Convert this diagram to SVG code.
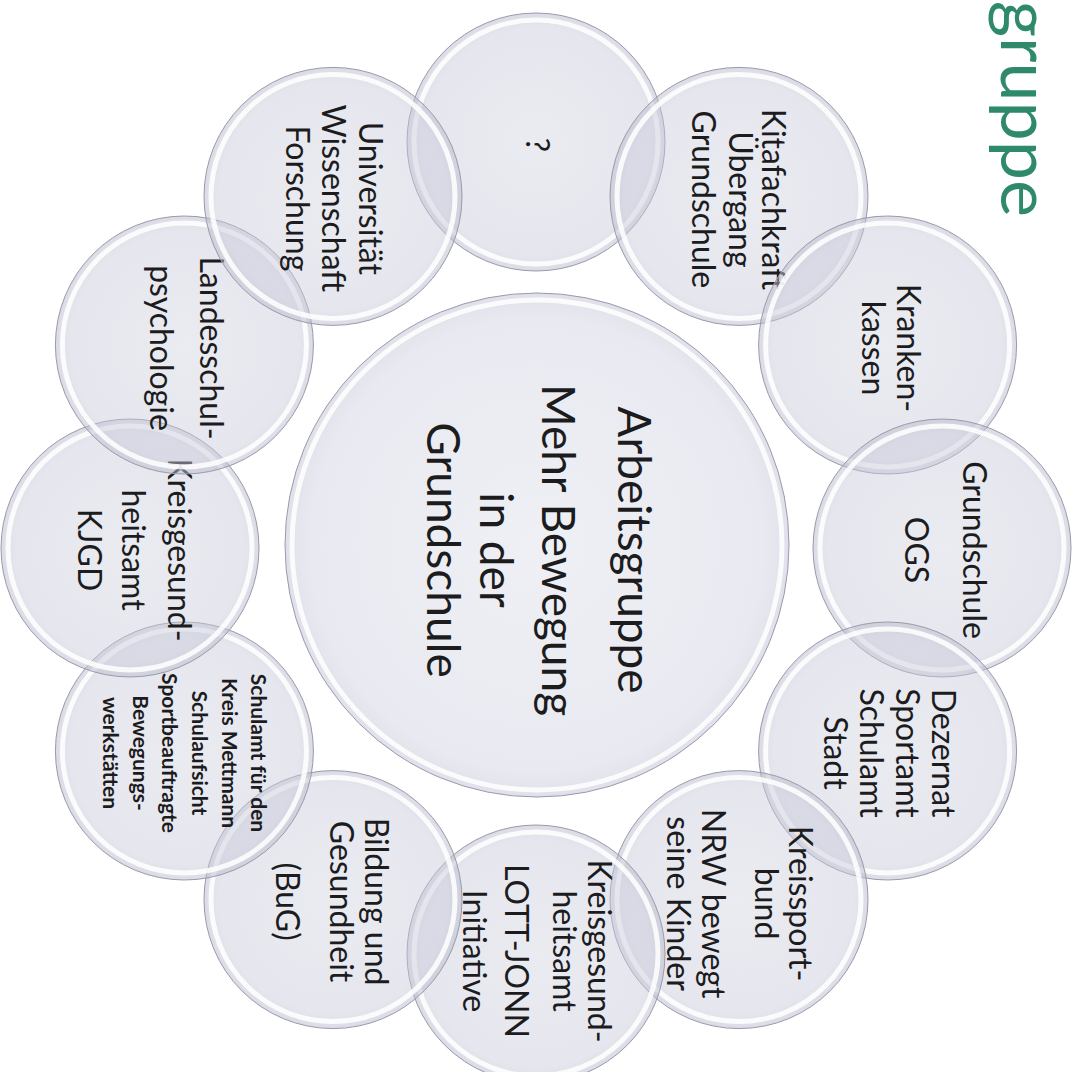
<svg xmlns="http://www.w3.org/2000/svg" width="1081" height="1072" viewBox="0 0 1081 1072">
<style>
.bub{fill:url(#bg);stroke:#9a9bab;stroke-width:1}
.rim{fill:none;stroke:#ffffff;stroke-width:5;opacity:0.85}
.t{font-family:Lato,"Open Sans","Liberation Sans",sans-serif;font-size:32px;fill:#1c1c1e;text-anchor:middle}
.s{font-size:21px;font-weight:bold}
.c{font-size:46px}
.title{font-family:Lato,"Open Sans","Liberation Sans",sans-serif;font-size:70px;fill:#2f8a6c;text-anchor:end}
</style>
<defs>
<radialGradient id="bg" cx="50%" cy="50%" r="50%">
<stop offset="0" stop-color="#c9cbdb" stop-opacity="0.38"/>
<stop offset="0.88" stop-color="#c6c8d8" stop-opacity="0.44"/>
<stop offset="1" stop-color="#b8bacb" stop-opacity="0.52"/>
</radialGradient>
<radialGradient id="cg" cx="50%" cy="50%" r="50%">
<stop offset="0" stop-color="#eff0f5"/>
<stop offset="0.9" stop-color="#e9eaf1"/>
<stop offset="1" stop-color="#dfe0e9"/>
</radialGradient>
</defs>
<rect width="1081" height="1072" fill="#ffffff"/>
<text class="title" transform="translate(1001,217) rotate(90)">gruppe</text>
<g id="connectors"/>
<g id="n-frage" transform="translate(536,142)">
<circle class="bub" r="129"/><circle class="rim" r="122"/>
<text class="t" transform="rotate(90)" x="3" y="10">?</text>
</g>
<g id="n-kita" transform="translate(739,196.4)">
<circle class="bub" r="129"/><circle class="rim" r="122"/>
<text class="t" transform="rotate(90)"><tspan x="3" y="-22.5">Kitafachkraft</tspan><tspan x="3" y="10.5">Übergang</tspan><tspan x="3" y="47.5">Grundschule</tspan></text>
</g>
<g id="n-kranken" transform="translate(887.6,345)">
<circle class="bub" r="129"/><circle class="rim" r="122"/>
<text class="t" transform="rotate(90)"><tspan x="3" y="-9">Kranken-</tspan><tspan x="3" y="26">kassen</tspan></text>
</g>
<g id="n-ogs" transform="translate(942,548)">
<circle class="bub" r="129"/><circle class="rim" r="122"/>
<text class="t" transform="rotate(90)"><tspan x="2" y="-20.5">Grundschule</tspan><tspan x="2" y="37.5">OGS</tspan></text>
</g>
<g id="n-dezernat" transform="translate(887.6,751)">
<circle class="bub" r="129"/><circle class="rim" r="122"/>
<text class="t" transform="rotate(90)"><tspan x="2" y="-44">Dezernat</tspan><tspan x="2" y="-8">Sportamt</tspan><tspan x="2" y="28">Schulamt</tspan><tspan x="2" y="64">Stadt</tspan></text>
</g>
<g id="n-kreissport" transform="translate(739,899.6)">
<circle class="bub" r="129"/><circle class="rim" r="122"/>
<text class="t" transform="rotate(90)"><tspan x="4" y="-50">Kreissport-</tspan><tspan x="4" y="-16">bund</tspan><tspan x="4" y="37">NRW bewegt</tspan><tspan x="4" y="72">seine Kinder</tspan></text>
</g>
<g id="n-lottjonn" transform="translate(536,954)">
<circle class="bub" r="129"/><circle class="rim" r="122"/>
<text class="t" transform="rotate(90)"><tspan x="-3" y="-52">Kreisgesund-</tspan><tspan x="-3" y="-17">heitsamt</tspan><tspan x="-3" y="31">LOTT-JONN</tspan><tspan x="-3" y="73">Initiative</tspan></text>
</g>
<g id="n-bug" transform="translate(333,899.6)">
<circle class="bub" r="129"/><circle class="rim" r="122"/>
<text class="t" transform="rotate(90)"><tspan x="2" y="-32">Bildung und</tspan><tspan x="2" y="3">Gesundheit</tspan><tspan x="2" y="57">(BuG)</tspan></text>
</g>
<g id="n-schulamt" transform="translate(184.4,751)">
<circle class="bub" r="129"/><circle class="rim" r="122"/>
<text class="t s" transform="rotate(90)"><tspan x="2" y="-67">Schulamt für den</tspan><tspan x="2" y="-38">Kreis Mettmann</tspan><tspan x="2" y="-8">Schulaufsicht</tspan><tspan x="2" y="22">Sportbeauftragte</tspan><tspan x="2" y="51">Bewegungs-</tspan><tspan x="2" y="81">werkstätten</tspan></text>
</g>
<g id="n-kjgd" transform="translate(130,548)">
<circle class="bub" r="129"/><circle class="rim" r="122"/>
<text class="t" transform="rotate(90)"><tspan x="2" y="-38">Kreisgesund-</tspan><tspan x="2" y="8">heitsamt</tspan><tspan x="2" y="52">KJGD</tspan></text>
</g>
<g id="n-landesschul" transform="translate(184.4,345)">
<circle class="bub" r="129"/><circle class="rim" r="122"/>
<text class="t" transform="rotate(90)"><tspan x="3" y="-15.6">Landesschul-</tspan><tspan x="3" y="34.4">psychologie</tspan></text>
</g>
<g id="n-uni" transform="translate(333,196.4)">
<circle class="bub" r="129"/><circle class="rim" r="122"/>
<text class="t" transform="rotate(90)"><tspan x="2" y="-25.5">Universität</tspan><tspan x="2" y="11.5">Wissenschaft</tspan><tspan x="2" y="47.5">Forschung</tspan></text>
</g>
<g id="n-center" transform="translate(537,545)">
<circle r="252" fill="url(#cg)" stroke="#9a9bab" stroke-width="1"/>
<circle class="rim" r="245"/>
<text class="t c" transform="rotate(90)"><tspan x="5" y="-81">Arbeitsgruppe</tspan><tspan x="5" y="-5">Mehr Bewegung</tspan><tspan x="5" y="57">in der</tspan><tspan x="5" y="110">Grundschule</tspan></text>
</g>
</svg>
